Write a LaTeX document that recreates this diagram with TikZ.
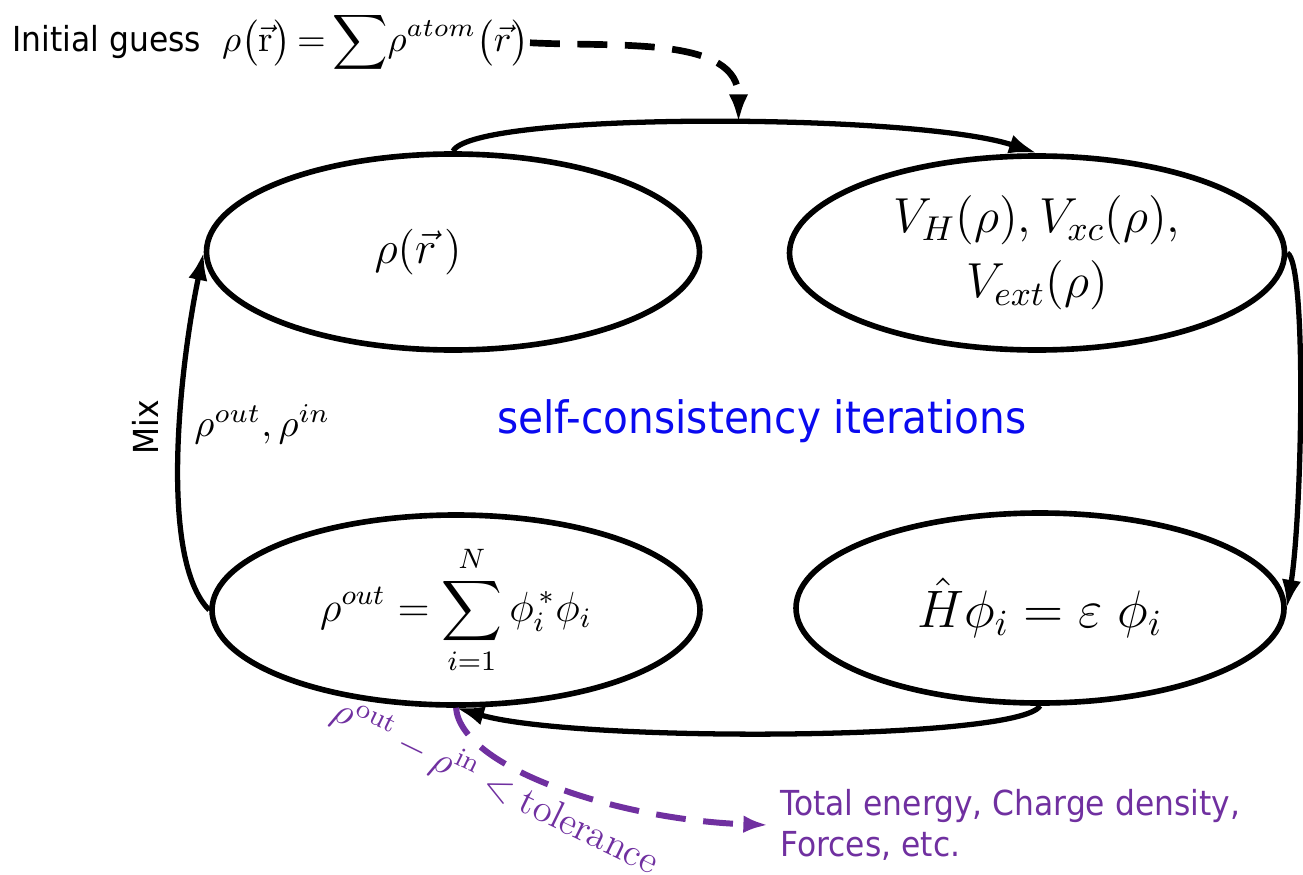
\documentclass[tikz,border=0pt]{standalone}
\usepackage{fix-cm}
\usepackage{amsmath}
\usepackage{fontspec}
\newfontfamily\labelfont{DejaVu Sans}[FakeStretch=0.91]
\usetikzlibrary{positioning, arrows.meta, shapes, shapes.geometric}
\definecolor{loopblue}{RGB}{10,10,240}
\definecolor{outpurple}{RGB}{112,48,160}

\begin{document}
\begin{tikzpicture}[
        ell/.style={ellipse, draw, line width=1.6pt, inner sep=0pt},
        flow/.style={line width=1.5pt, -{Latex[length=8pt,width=5.5pt]}},
        guess/.style={line width=1.9pt, dash pattern=on 8.5pt off 5pt, -{Latex[length=8pt,width=5.5pt]}},
        result/.style={outpurple, line width=1.7pt, dash pattern=on 8.5pt off 5pt, -{Latex[length=7pt,width=5pt]}},
        sans/.style={font=\labelfont\fontsize{9.8}{11.5}\selectfont}]
        \useasboundingbox (0,0) rectangle (13.03,8.74);

        \node[ell, minimum width=4.93cm, minimum height=1.96cm, font=\fontsize{13}{15}\selectfont] (rho) at (4.53,6.22) {$\rho(\vec{r}\,)$\hspace*{0.7cm}};
        \node[ell, minimum width=4.95cm, minimum height=1.94cm, align=center, font=\fontsize{14}{18.5}\selectfont] (pot) at (10.37,6.21) {$V_H(\rho),V_{xc}(\rho),$\\$V_{ext}(\rho)$};
        \node[ell, minimum width=4.88cm, minimum height=1.90cm, font=\fontsize{12}{14}\selectfont] (dens) at (4.56,2.64) {$\displaystyle\rho^{out}=\sum_{i=1}^{N}\phi_i^{\,*}\phi_i$};
        \node[ell, minimum width=4.88cm, minimum height=1.90cm, font=\fontsize{15}{17}\selectfont] (ks) at (10.40,2.66) {$\hat{H}\phi_i=\varepsilon\;\phi_i$};

        \node[anchor=base west, inner sep=0pt, font=\fontsize{10.5}{12.5}\selectfont] (init) at (0.12,8.22) {{\labelfont\fontsize{9.8}{11.5}\selectfont Initial guess}\hspace{6pt}$\rho\bigl(\vec{\mathrm{r}}\bigr)\mkern-2mu=\mkern-2mu\displaystyle\sum\!\rho^{atom}\bigl(\vec{r}\bigr)$};
        \node[sans, rotate=90] (mix) at (1.45,4.47) {Mix};
        \node[anchor=west, font=\fontsize{11}{13}\selectfont] (mixin) at (1.82,4.50) {$\rho^{out},\rho^{in}$};
        \node[text=loopblue, font=\labelfont\fontsize{12.7}{15}\selectfont] (scf) at (7.62,4.53) {self-consistency iterations};
        \node[sans, anchor=west, align=left, text=outpurple] (res) at (7.68,0.49) {Total energy, Charge density,\\Forces, etc.};
        \node[rotate=-26, text=outpurple, font=\fontsize{11}{13}\selectfont] (tol) at (4.96,0.88) {$\rho^{\mathrm{out}}-\rho^{\mathrm{in}}<\mathrm{tolerance}$};

        \draw[flow] (rho.north) .. controls +(0.2,0.4) and +(-1.2,0.4) .. (pot.north) coordinate[pos=0.54] (merge);
        \draw[flow] (pot.east) .. controls +(0.2,-0.1) and +(0.15,0.9) .. (ks.east);
        \draw[flow] (ks.south) .. controls +(-0.2,-0.35) and +(1.2,-0.35) .. (dens.south);
        \draw[flow] (dens.west) .. controls +(-0.5,0.5) and +(-0.25,-1.2) .. (rho.west);
        \draw[guess] (init.east) to[out=-3,in=90] (merge);
        \draw[result] (dens.south) .. controls +(0.05,-0.6) and +(-1.5,0.05) .. (res.west);
\end{tikzpicture}
\end{document}
